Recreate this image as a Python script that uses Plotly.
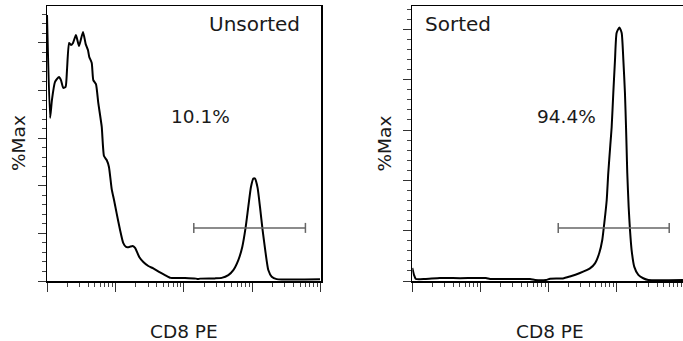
import plotly.graph_objects as go

# ---------------- data ----------------
# Unsorted sample: CD8 PE intensity vs %Max
unsorted_x = [10.0, 11.1, 11.8, 13.1, 15.0, 16.0, 17.3, 18.7, 19.6, 21.0, 22.4, 24.0, 26.5, 29.4,
              33.6, 36.8, 39.7, 41.5, 45.1, 47.5, 52.0, 56.2, 63.1, 68.1, 74.6, 80.5, 88.3, 95.5,
              104, 117, 130, 143, 160, 179, 194, 223, 256, 303, 358, 449, 531, 643, 1040, 1510,
              1610, 1730, 2860, 3580, 4480, 5300, 6270, 7160, 8040, 8770, 9590, 10400, 11000,
              12000, 13000, 14200, 15700, 17200, 19300, 22800, 98000]
unsorted_y = [111.7, 68.5, 76.0, 83.6, 85.7, 84.4, 81.1, 81.5, 88.6, 100.0, 99.1, 100.0, 103.3, 98.7,
              104.6, 99.5, 97.0, 94.1, 91.6, 84.4, 82.7, 74.8, 64.8, 52.5, 50.8, 47.9, 38.6, 34.0,
              28.6, 21.4, 16.0, 14.3, 14.3, 14.7, 13.9, 10.1, 8.0, 6.3, 5.3, 3.6, 2.5, 1.3, 1.3, 1.0,
              0.8, 1.0, 1.1, 1.3, 2.5, 4.6, 8.8, 14.3, 22.7, 31.1, 39.5, 43.0, 43.0,
              39.1, 31.1, 21.4, 11.8, 4.6, 1.8, 0.8, 0.7]

# Sorted sample
sorted_x = [10.0, 10.6, 11.3, 15.4, 25.5, 50.2, 121, 139, 538, 637, 925, 1060, 1640, 2080, 2920,
            4100, 4860, 5620, 6220, 6670, 7230, 7620, 8170, 8550, 9040, 9570, 10100, 11100,
            12000, 12700, 13400, 13900, 14200, 14500, 15200, 15900, 16800, 18400, 21100, 24900,
            29600, 95700]
sorted_y = [5.2, 2.4, 0.8, 0.8, 1.2, 1.1, 1.2, 0.8, 0.8, 0.4, 0.4, 0.9, 1.0, 1.8, 3.2,
            5.0, 7.0, 11.1, 16.3, 23.1, 32.2, 42.9, 54.1, 61.2, 74.8, 87.9, 98.6, 100.8,
            98.6, 87.9, 74.8, 61.2, 52.1, 42.9, 29.4, 20.3, 12.3, 5.6, 2.4, 1.1,
            0.4, 0.4]

gate_x = [1400, 60000]
gate_y_unsorted = 22.3
gate_y_sorted = 21.1

panel_titles = ["Unsorted", "Sorted"]
gate_labels = ["10.1%", "94.4%"]
x_title = "CD8 PE"
y_title = "%Max"

# ---------------- layout constants ----------------
W, H = 683, 341
FONT = "DejaVu Sans"
TXT = "#1a1a1a"


def px(x):
    return x / W


def py(y):
    return 1 - y / H


y_dom = [py(281), py(6)]

fig = go.Figure()

# curves
fig.add_trace(go.Scatter(x=unsorted_x, y=unsorted_y, mode="lines",
                         line=dict(color="black", width=2, shape="spline", smoothing=0.5),
                         xaxis="x", yaxis="y", showlegend=False, hoverinfo="skip"))
fig.add_trace(go.Scatter(x=sorted_x, y=sorted_y, mode="lines",
                         line=dict(color="black", width=2, shape="spline", smoothing=0.5),
                         xaxis="x2", yaxis="y2", showlegend=False, hoverinfo="skip"))


def gate_trace(gy, cap, xa, ya):
    gx0, gx1 = gate_x
    xs = [gx0, gx1, None, gx0, gx0, None, gx1, gx1]
    ys = [gy, gy, None, gy - cap, gy + cap, None, gy - cap, gy + cap]
    return go.Scatter(x=xs, y=ys, mode="lines", line=dict(color="#666666", width=1.5),
                      xaxis=xa, yaxis=ya, showlegend=False, hoverinfo="skip")


fig.add_trace(gate_trace(gate_y_unsorted, 2.1, "x", "y"))
fig.add_trace(gate_trace(gate_y_sorted, 2.0, "x2", "y2"))

major_x = [10, 100, 1000, 10000, 100000]
minor_x = [k * 10 ** d for d in range(1, 5) for k in range(2, 10)]


def xaxis_cfg(domain, rng, anchor, mirror):
    return dict(type="log", domain=domain, range=rng, anchor=anchor,
                showgrid=False, zeroline=False, showline=True, linecolor="black",
                linewidth=1.5, mirror=mirror, ticks="outside", ticklen=9, tickwidth=1,
                tickcolor="#333333", tickvals=major_x, showticklabels=False,
                minor=dict(tickvals=minor_x, ticks="outside", ticklen=4, tickwidth=1,
                           tickcolor="#444444", showgrid=False))


def yaxis_cfg(rng, anchor, mirror):
    return dict(domain=y_dom, range=rng, anchor=anchor, showgrid=False, zeroline=False,
                showline=True, linecolor="black", linewidth=1.5, mirror=mirror,
                ticks="outside", ticklen=8, tickwidth=1, tickcolor="#333333",
                tick0=0, dtick=20, showticklabels=False,
                minor=dict(tick0=0, dtick=4, ticks="outside", ticklen=4, tickwidth=1,
                           tickcolor="#444444", showgrid=False))


fig.update_layout(
    width=W, height=H, margin=dict(l=0, r=0, t=0, b=0),
    paper_bgcolor="white", plot_bgcolor="white",
    xaxis=xaxis_cfg([px(47), px(321)], [1, 5.006], "y", True),
    yaxis=yaxis_cfg([0, 115.5], "x", True),
    xaxis2=xaxis_cfg([px(412.3), 1.0], [1, 4.981], "y2", True),
    yaxis2=yaxis_cfg([0, 109.3], "x2", False),
    font=dict(family=FONT, color=TXT),
    hovermode=False,
)

ann = []
ann.append(dict(text=panel_titles[0], x=px(302), y=py(24), xanchor="right", yanchor="middle",
                font=dict(size=20)))
ann.append(dict(text=panel_titles[1], x=px(423), y=py(24), xanchor="left", yanchor="middle",
                font=dict(size=20)))
ann.append(dict(text=gate_labels[0], x=px(200.5), y=py(117), xanchor="center", yanchor="middle",
                font=dict(size=18.5)))
ann.append(dict(text=gate_labels[1], x=px(566.5), y=py(117), xanchor="center", yanchor="middle",
                font=dict(size=18.5)))
for cx in (184, 550):
    ann.append(dict(text=x_title, x=px(cx), y=py(331), xanchor="center", yanchor="middle",
                    font=dict(size=18.5)))
for cx in (18.5, 384):
    ann.append(dict(text=y_title, x=px(cx), y=py(143.5), xanchor="center", yanchor="middle",
                    textangle=-90, font=dict(size=18.5)))
for a in ann:
    a.update(xref="paper", yref="paper", showarrow=False)
fig.update_layout(annotations=ann)

fig.write_html(
    "out.html",
    config={"displayModeBar": False, "staticPlot": True},
    post_script="document.body.style.margin='0';document.body.style.overflow='hidden';",
)
